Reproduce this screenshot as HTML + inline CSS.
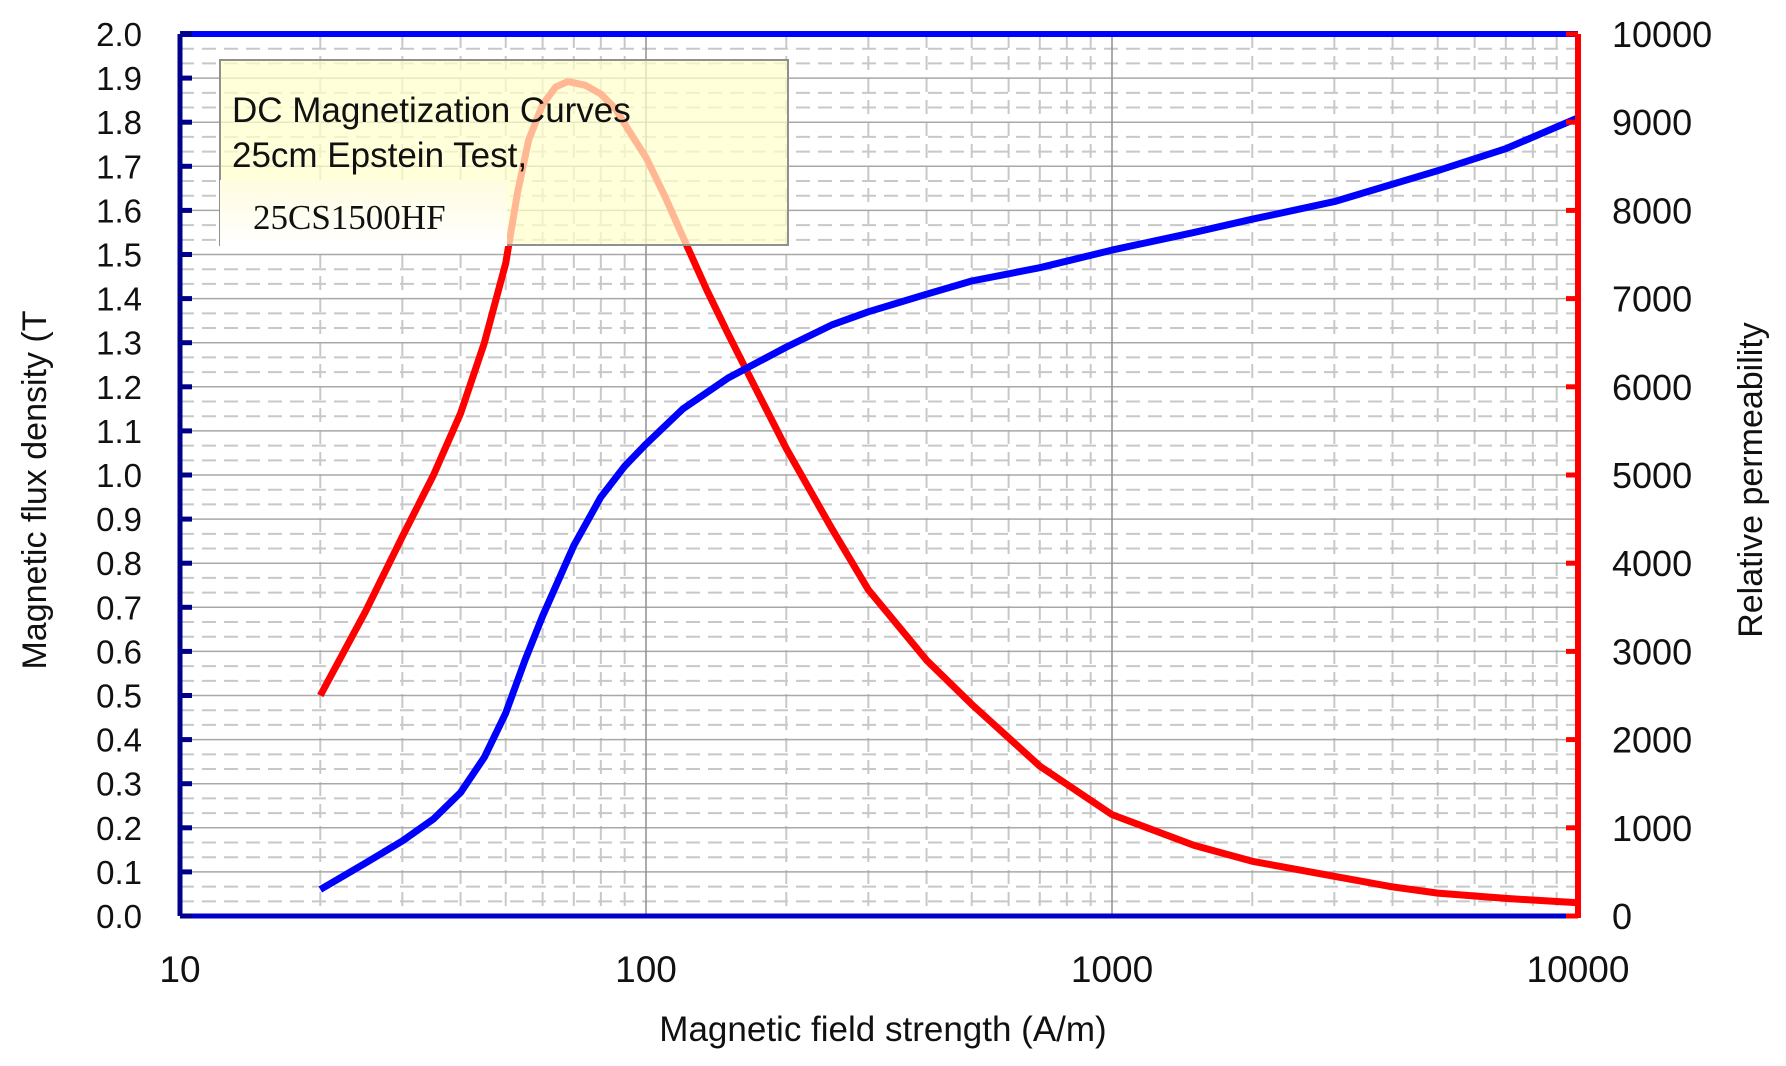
<!DOCTYPE html>
<html><head><meta charset="utf-8"><style>
html,body{margin:0;padding:0;background:#fff;}
svg{display:block;font-family:"Liberation Sans",sans-serif;}
</style></head><body>
<svg id="s" width="1786" height="1066" xmlns="http://www.w3.org/2000/svg"></svg>
<script>
const L=180,R=1578,T=34,B=916,W=R-L,H=B-T;
const X=h=>L+(Math.log10(h)-1)/3*W;
const YB=b=>B-b/2*H;
const YM=m=>B-m/10000*H;
let s='';
for(let i=0;i<20;i++){
 for(let k=1;k<3;k++){const y=YB(i*0.1+k*0.0333);s+=`<line x1="${L}" x2="${R}" y1="${y}" y2="${y}" stroke="#c8c8c8" stroke-width="2" stroke-dasharray="14,8"/>`;}
}
for(let d=1;d<4;d++)for(let m=2;m<10;m++){const x=X(m*Math.pow(10,d));s+=`<line x1="${x}" x2="${x}" y1="${T}" y2="${B}" stroke="#c8c8c8" stroke-width="2" stroke-dasharray="14,8"/>`;}
for(let i=1;i<20;i++){const y=YB(i*0.1);s+=`<line x1="${L}" x2="${R}" y1="${y}" y2="${y}" stroke="#a8a8a8" stroke-width="1.5"/>`;}
for(let d=2;d<4;d++){const x=X(Math.pow(10,d));s+=`<line x1="${x}" x2="${x}" y1="${T}" y2="${B}" stroke="#909090" stroke-width="1.5"/>`;}
const bd=[[20,.06],[25,.12],[30,.17],[35,.22],[40,.28],[45,.36],[50,.46],[55,.58],[60,.68],[70,.84],[80,.95],[90,1.02],[100,1.07],[120,1.15],[150,1.22],[200,1.29],[250,1.34],[300,1.37],[400,1.41],[500,1.44],[700,1.47],[1000,1.51],[1500,1.55],[2000,1.58],[3000,1.62],[5000,1.69],[7000,1.74],[10000,1.81]];
const md=[[20,2500],[25,3450],[30,4300],[35,5000],[40,5700],[45,6500],[50,7400],[53,8200],[56,8800],[60,9200],[64,9400],[68,9460],[74,9420],[80,9320],[86,9150],[92,8900],[100,8600],[110,8150],[120,7700],[135,7100],[150,6600],[175,5900],[200,5300],[250,4400],[300,3700],[400,2900],[500,2400],[700,1700],[1000,1150],[1500,800],[2000,620],[3000,450],[4000,330],[5000,260],[7000,200],[10000,150]];
const pth=(d,f)=>d.map((p,i)=>(i?'L':'M')+X(p[0]).toFixed(1)+','+f(p[1]).toFixed(1)).join('');
s+=`<path d="${pth(md,YM)}" fill="none" stroke="#ff0000" stroke-width="7" stroke-linejoin="round"/>`;
s+=`<path d="${pth(bd,YB)}" fill="none" stroke="#0000ff" stroke-width="7" stroke-linejoin="round"/>`;
s+=`<defs><linearGradient id="g" x1="0" y1="0" x2="0" y2="1"><stop offset="0" stop-color="#fffce0"/><stop offset="1" stop-color="#ffffff"/></linearGradient></defs>`;
s+=`<rect x="220" y="60" width="568" height="185" fill="#ffffcc" fill-opacity="0.72" stroke="#909090" stroke-width="2"/>`;
s+=`<rect x="220" y="180" width="287" height="66" fill="url(#g)"/>`;
s+=`<text x="232" y="122" font-size="35" fill="#111">DC Magnetization Curves</text>`;
s+=`<text x="232" y="167" font-size="35" fill="#111">25cm Epstein Test,</text>`;
s+=`<text x="253" y="229" font-size="35" font-family="Liberation Serif,serif" fill="#111">25CS1500HF</text>`;
s+=`<line x1="${L}" x2="${R}" y1="${T}" y2="${T}" stroke="#0000ff" stroke-width="6"/>`;
s+=`<line x1="${L}" x2="${R}" y1="${B}" y2="${B}" stroke="#0000cc" stroke-width="5"/>`;
s+=`<line x1="${L}" x2="${L}" y1="${T}" y2="${B}" stroke="#00008b" stroke-width="5"/>`;
s+=`<line x1="${R}" x2="${R}" y1="${T}" y2="${B+2}" stroke="#ff0000" stroke-width="6"/>`;
for(let i=0;i<=20;i++){const y=YB(i*0.1);s+=`<line x1="${L}" x2="${L+12}" y1="${y}" y2="${y}" stroke="#00008b" stroke-width="5"/>`;
 s+=`<text x="142" y="${y+12}" font-size="33" text-anchor="end" fill="#111">${(i/10).toFixed(1)}</text>`;}
for(let i=0;i<=10;i++){const y=YM(i*1000);s+=`<line x1="${R-12}" x2="${R}" y1="${y}" y2="${y}" stroke="#ff0000" stroke-width="5"/>`;
 s+=`<text x="1612" y="${y+13}" font-size="36" fill="#111">${i*1000}</text>`;}
['10','100','1000','10000'].forEach((t,i)=>{s+=`<text x="${X(Math.pow(10,i+1))}" y="982" font-size="37" text-anchor="middle" fill="#111">${t}</text>`;});
s+=`<text x="883" y="1041" font-size="35" text-anchor="middle" fill="#111">Magnetic field strength (A/m)</text>`;
s+=`<text transform="translate(46,490) rotate(-90)" font-size="34" text-anchor="middle" fill="#111">Magnetic flux density (T</text>`;
s+=`<text transform="translate(1762,480) rotate(-90)" font-size="34" text-anchor="middle" fill="#111">Relative permeability</text>`;
document.getElementById('s').innerHTML=s;
</script>
</body></html>
